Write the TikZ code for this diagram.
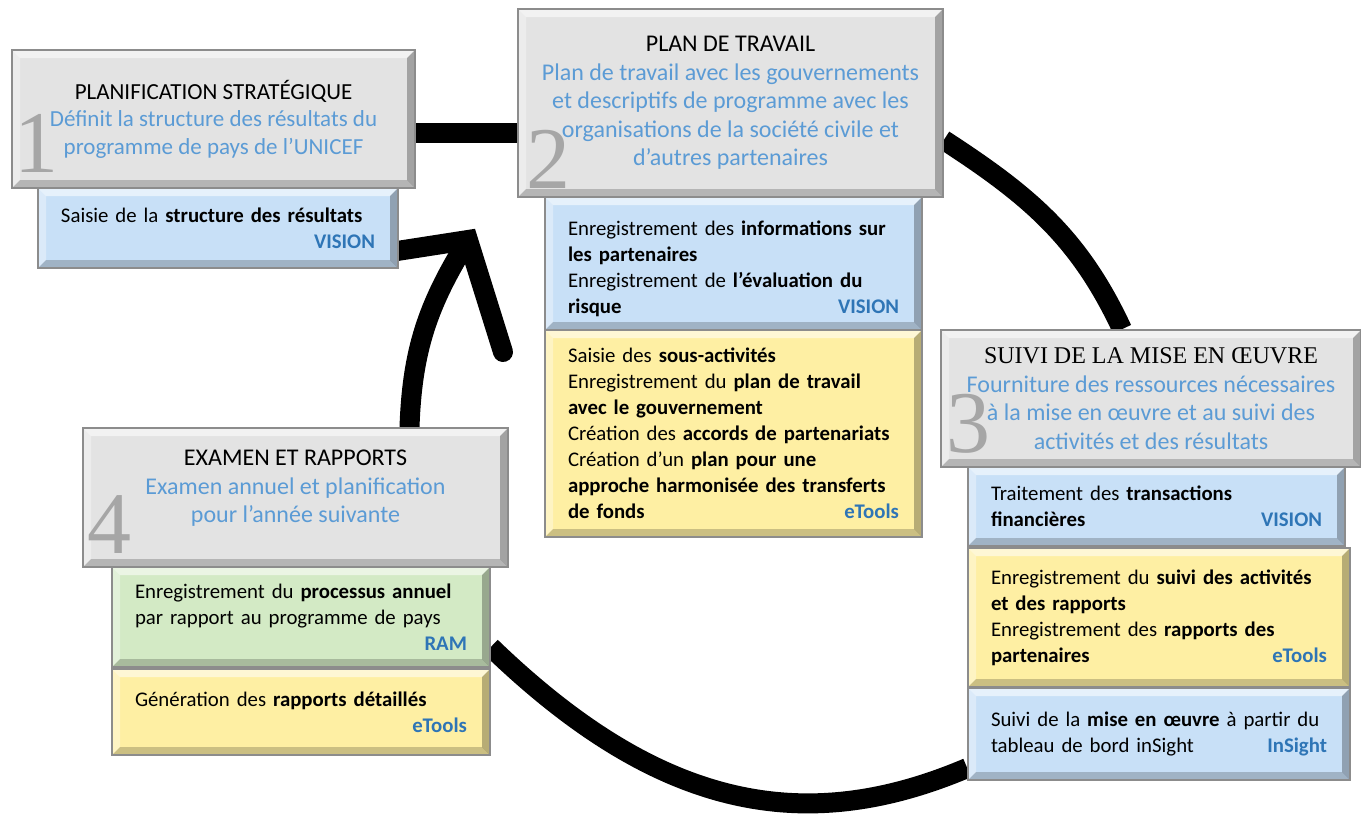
\documentclass[tikz,border=0pt]{standalone}
\usepackage{fontspec}
\setmainfont{Carlito}
\newfontfamily\timesfont{Liberation Serif}
\usetikzlibrary{positioning,
  calc}

\definecolor{boxgray}{HTML}{E3E3E3}
\definecolor{boxblue}{HTML}{C8E0F7}
\definecolor{boxyellow}{HTML}{FEEFA3}
\definecolor{boxgreen}{HTML}{D3EAC5}
\definecolor{edgegray}{HTML}{8C8C8C}
\definecolor{headblue}{HTML}{5B9BD5}
\definecolor{toolblue}{HTML}{2E75B6}
\definecolor{numgray}{HTML}{A6A6A6}

\pgfdeclarelayer{back}
\pgfsetlayers{back,main}

% tool name pushed to the right end of the last line
\newcommand{\toolname}[2][0pt]{\leavevmode\hfill{\bfseries\color{toolblue}#2}\hspace*{#1}}

\tikzset{
  bevel/.style={draw=edgegray, line width=0.8pt,
    path picture={
      \fill[white, opacity=0.55] (path picture bounding box.north west) -- (path picture bounding box.north east)
        -- ([shift={(-4pt,-4pt)}]path picture bounding box.north east) -- ([shift={(4pt,-4pt)}]path picture bounding box.north west) -- cycle;
      \fill[white, opacity=0.35] (path picture bounding box.north west) -- (path picture bounding box.south west)
        -- ([shift={(4pt,4pt)}]path picture bounding box.south west) -- ([shift={(4pt,-4pt)}]path picture bounding box.north west) -- cycle;
      \fill[black, opacity=0.28] (path picture bounding box.north east) -- (path picture bounding box.south east)
        -- ([shift={(-4pt,4pt)}]path picture bounding box.south east) -- ([shift={(-4pt,-4pt)}]path picture bounding box.north east) -- cycle;
      \fill[black, opacity=0.2] (path picture bounding box.south west) -- (path picture bounding box.south east)
        -- ([shift={(-4pt,4pt)}]path picture bounding box.south east) -- ([shift={(4pt,4pt)}]path picture bounding box.south west) -- cycle;
    }},
  stage/.style={bevel, fill=boxgray, align=center, inner sep=0pt,
    font=\fontsize{12}{14.3}\selectfont},
  task/.style={bevel, align=left, inner xsep=11.5pt, inner ysep=0pt,
    font=\fontsize{10.4}{13}\selectfont},
  stagenum/.style={anchor=base west, inner sep=0pt, text=numgray,
    font=\timesfont\fontsize{44}{44}\selectfont},
  cycleline/.style={line width=10pt}
}

\begin{document}
\begin{tikzpicture}[x=0.5pt,y=-0.5pt]
  \useasboundingbox (0,0) rectangle (1361,814);

  % Tasks under each stage
  \node[task, fill=boxblue, text width=157pt, minimum height=40pt] (b1) at (218,228)
    {Saisie de la \textbf{structure des résultats}\\ \toolname[-4pt]{VISION}};

  \node[task, fill=boxblue, text width=165.5pt, minimum height=66.5pt] (b2) at (733.5,263.5)
    {\rule{0pt}{12.5pt}Enregistrement des \textbf{informations sur}\\
     \textbf{les partenaires}\\
     Enregistrement de \textbf{l’évaluation du}\\
     \textbf{risque}\toolname[5.5pt]{VISION}};
  \node[task, fill=boxyellow, text width=165.5pt, minimum height=103.5pt] (y2) at (733.5,433.5)
    {Saisie des \textbf{sous-activités}\\
     Enregistrement du \textbf{plan de travail}\\
     \textbf{avec le gouvernement}\\
     Création des \textbf{accords de partenariats}\\
     Création d’un \textbf{plan pour une}\\
     \textbf{approche harmonisée des transferts}\\
     \textbf{de fonds}\toolname[5.5pt]{eTools}};

  \node[task, fill=boxblue, text width=165.5pt, minimum height=39.5pt] (b3) at (1156.5,506.5)
    {Traitement des \textbf{transactions}\\
     \textbf{financières}\toolname{VISION}};
  \node[task, fill=boxyellow, text width=168pt, minimum height=69.5pt] (y3) at (1159,617.5)
    {Enregistrement du \textbf{suivi des activités}\\
     \textbf{et des rapports}\\
     Enregistrement des \textbf{rapports des}\\
     \textbf{partenaires}\toolname[6.5pt]{eTools}};
  \node[task, fill=boxblue, text width=168pt, minimum height=46pt] (b3b) at (1159,734)
    {Suivi de la \textbf{mise en œuvre} à partir du\\
     tableau de bord inSight\toolname[3.5pt]{InSight}};

  \node[task, fill=boxgreen, text width=166pt, minimum height=50pt] (gr4) at (301,617)
    {Enregistrement du \textbf{processus annuel}\\
     par rapport au programme de pays\\
     \toolname[7.5pt]{RAM}};
  \node[task, fill=boxyellow, text width=166pt, minimum height=43pt] (y4) at (301,712)
    {Génération des \textbf{rapports détaillés}\\
     \toolname{eTools}};

  % Stages
  \node[stage, minimum width=201.5pt, minimum height=69pt,
    font=\fontsize{11.5}{13.75}\selectfont] (g1) at (213.5,119)
    {PLANIFICATION STRATÉGIQUE\\
     \textcolor{headblue}{Définit la structure des résultats du}\\
     \textcolor{headblue}{programme de pays de l’UNICEF}};
  \node[stage, minimum width=212.5pt, minimum height=94pt] (g2) at (730.5,103)
    {PLAN DE TRAVAIL\\
     \textcolor{headblue}{Plan de travail avec les gouvernements}\\
     \textcolor{headblue}{et descriptifs de programme avec les}\\
     \textcolor{headblue}{organisations de la société civile et}\\
     \textcolor{headblue}{d’autres partenaires}};
  \node[stage, minimum width=210pt, minimum height=68.5pt] (g3) at (1151,398.5)
    {{\timesfont\fontsize{12}{14.3}\selectfont SUIVI DE LA MISE EN ŒUVRE}\\
     \textcolor{headblue}{Fourniture des ressources nécessaires}\\
     \textcolor{headblue}{à la mise en œuvre et au suivi des}\\
     \textcolor{headblue}{activités et des résultats}};
  \node[stage, minimum width=212.5pt, minimum height=69.5pt] (g4) at (295.5,497.5)
    {EXAMEN ET RAPPORTS\\
     \textcolor{headblue}{Examen annuel et planification}\\
     \textcolor{headblue}{pour l’année suivante}\rule[-11pt]{0pt}{11pt}};

  \node[stagenum] (n1) at ([shift={(1.5pt,8pt)}]g1.south west) {1};
  \node[stagenum] (n2) at ([shift={(4.5pt,4.5pt)}]g2.south west) {2};
  \node[stagenum] (n3) at ([shift={(3pt,7.5pt)}]g3.south west) {3};
  \node[stagenum] (n4) at ([shift={(2.5pt,7pt)}]g4.south west) {4};

  \coordinate (tip) at (468,240);

  % The cycle, behind the boxes
  \begin{pgfonlayer}{back}
    \draw[cycleline] ([yshift=-6.75pt]g1.east) -- ([yshift=-14.75pt]g2.west);
    \draw[cycleline] ([yshift=-18.5pt]g2.east) to[out=-33,in=115] ([xshift=-14.5pt]g3.north);
    \draw[cycleline] ([yshift=-17pt]b3b.west) to[out=-157,in=-44,out distance=90pt,in distance=115pt] ([yshift=-15pt]gr4.east);
    \draw[cycleline] ([xshift=57pt]g4.north) to[out=88,in=-122] (tip);
    \draw[cycleline, line cap=round] ($(tip)+(-116,18)$) -- (tip) -- ($(tip)+(35,112)$);
  \end{pgfonlayer}
\end{tikzpicture}
\end{document}
